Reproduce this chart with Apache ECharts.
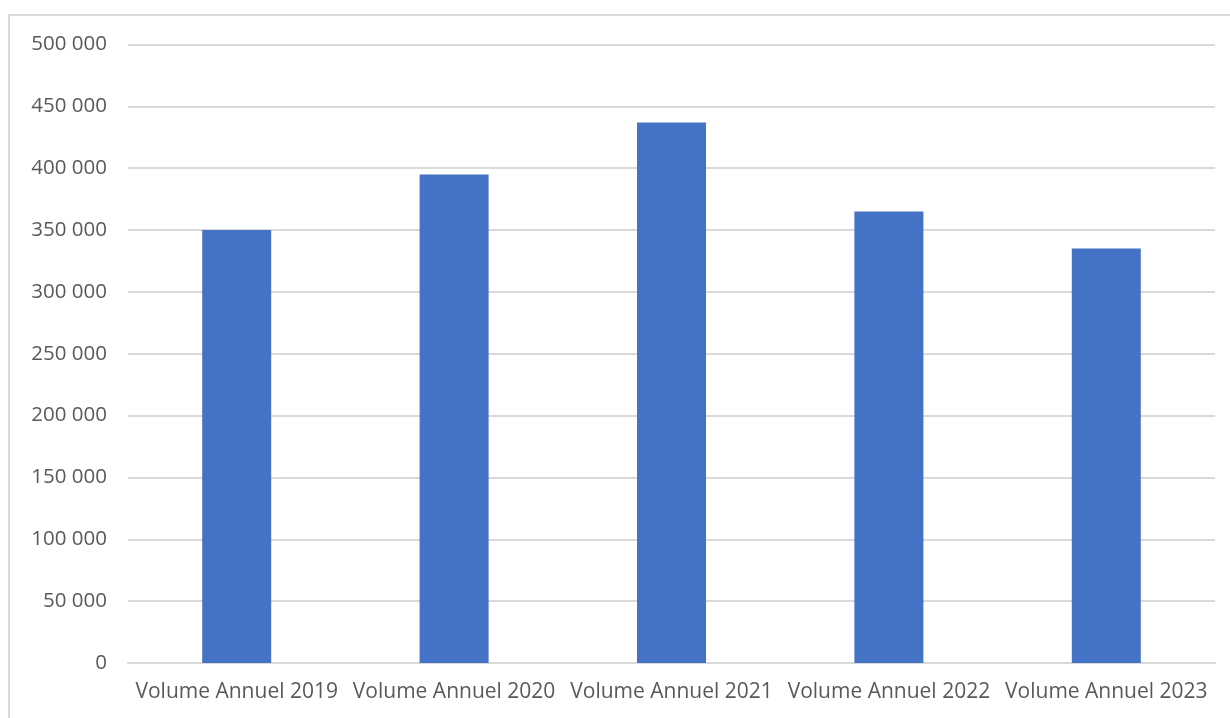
<!DOCTYPE html>
<html>
<head>
<meta charset="utf-8">
<script src="https://cdn.jsdelivr.net/npm/echarts@6/dist/echarts.min.js"></script>
<style>
  html, body { margin: 0; padding: 0; background: #fff; }
  #main { width: 1230px; height: 718px; }
</style>
</head>
<body>
<div id="main"></div>
<script>
// categories and values
var categories = ['Volume Annuel 2019', 'Volume Annuel 2020', 'Volume Annuel 2021', 'Volume Annuel 2022', 'Volume Annuel 2023'];
var volumes = [350000, 395000, 437000, 365000, 335000];

var myChart = echarts.init(document.getElementById('main'));

// 500000 -> "500 000"
function fmt(v) {
    return String(v).replace(/\B(?=(\d{3})+(?!\d))/g, ' ');
}

var option = {
    backgroundColor: '#fff',
    animation: false,
    textStyle: { fontFamily: 'Open Sans' },
    graphic: [{
        type: 'rect',
        shape: { x: 9, y: 15, width: 1300, height: 800 },
        style: { fill: 'none', stroke: '#d9d9d9', lineWidth: 2 },
        silent: true
    }],
    grid: { left: 128, right: 15, top: 44.5, bottom: 55 },
    xAxis: {
        type: 'category',
        data: categories,
        axisLine: { lineStyle: { color: '#d9d9d9', width: 2 } },
        axisTick: { show: false },
        axisLabel: { color: '#595959', fontSize: 21, margin: 19, interval: 0 }
    },
    yAxis: {
        type: 'value',
        min: 0,
        max: 500000,
        interval: 50000,
        axisLine: { show: false },
        axisTick: { show: false },
        splitLine: { lineStyle: { color: '#d9d9d9', width: 2 } },
        axisLabel: { color: '#595959', fontSize: 20.5, margin: 21, formatter: fmt }
    },
    series: [{
        type: 'bar',
        data: volumes,
        barWidth: 69,
        itemStyle: { color: '#4472c4' }
    }]
};

myChart.setOption(option);
</script>
</body>
</html>
